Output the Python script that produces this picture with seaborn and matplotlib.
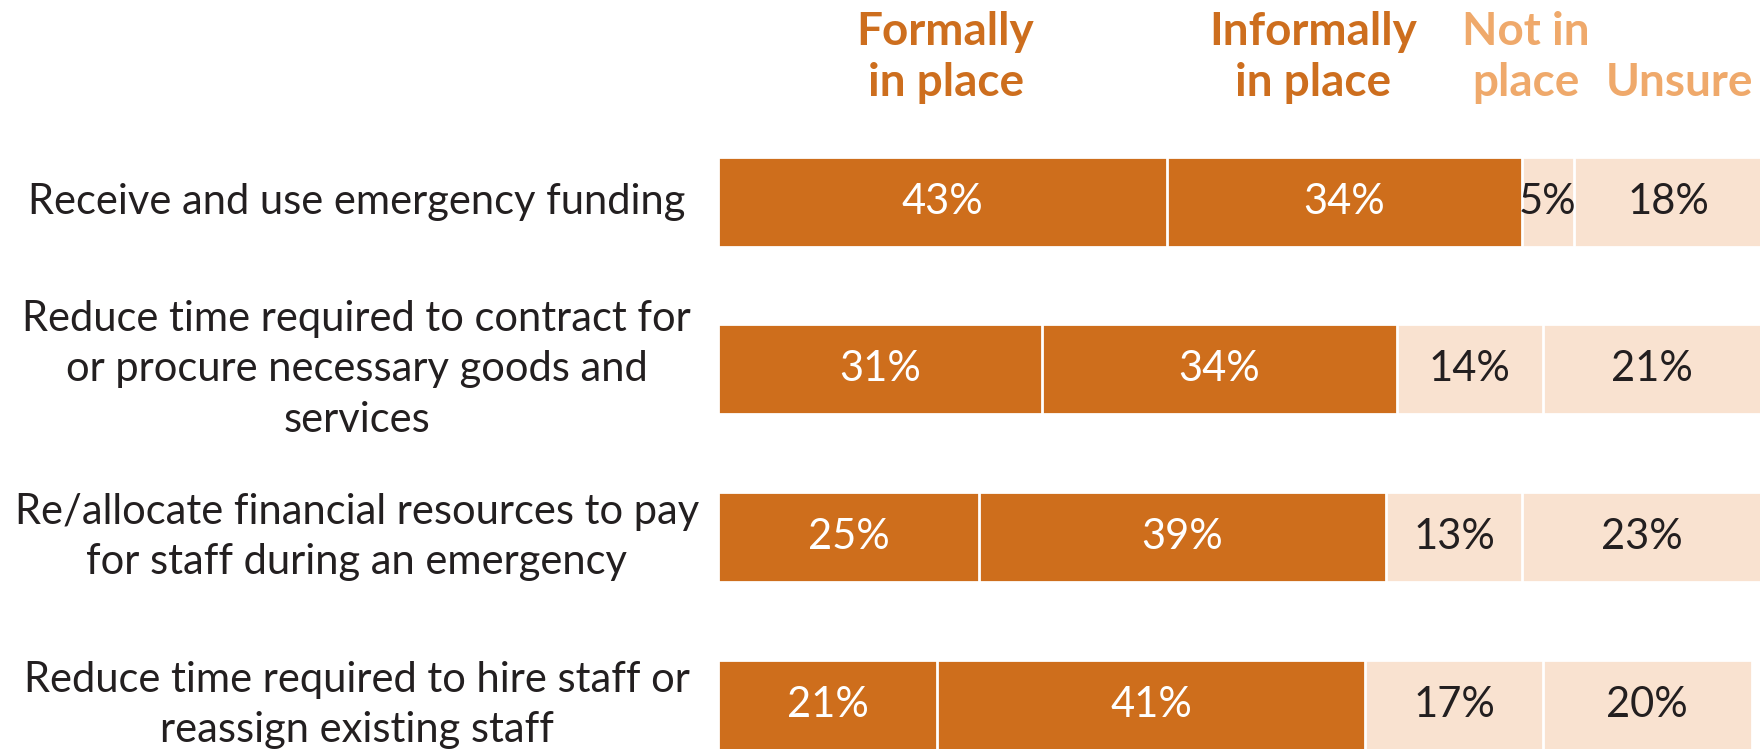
import numpy as np
import pandas as pd
import matplotlib
matplotlib.use("Agg")
import matplotlib.pyplot as plt
import seaborn as sns

# data
categories = [
    "Receive and use emergency funding",
    "Reduce time required to contract for\nor procure necessary goods and\nservices",
    "Re/allocate financial resources to pay\nfor staff during an emergency",
    "Reduce time required to hire staff or\nreassign existing staff",
]
series_names = ["Formally\nin place", "Informally\nin place", "Not in\nplace", "Unsure"]
formally = [43, 31, 25, 21]
informally = [34, 34, 39, 41]
not_in_place = [5, 14, 13, 17]
unsure = [18, 21, 23, 20]

DARK = "#CE6E1C"
LIGHT = "#F9E2D0"
HEAD_DARK = "#CD6E1E"
HEAD_LIGHT = "#EFA96B"
TEXT = "#231F20"

sns.set_theme(style="white")
plt.rcParams["font.family"] = ["Lato", "DejaVu Sans"]

values = np.array([formally, informally, not_in_place, unsure], dtype=float)
cum = values.cumsum(axis=0)

fig = plt.figure(figsize=(17.6, 7.49), dpi=100)
ax = fig.add_axes([718 / 1760, 0, 1044 / 1760, 1])

seg_colors = [DARK, DARK, LIGHT, LIGHT]
# cumulative bars drawn back to front -> stacked look
for k in range(3, -1, -1):
    df = pd.DataFrame({"cat": categories, "val": cum[k]})
    sns.barplot(data=df, x="val", y="cat", color=seg_colors[k], saturation=1,
                width=0.536, edgecolor="white", linewidth=2, ax=ax)

ax.set_xlim(0, 100)
ax.set_ylim(3.262, -1.202)
ax.axis("off")

# segment labels
for k in range(4):
    left = cum[k] - values[k]
    for i in range(len(categories)):
        cx = left[i] + values[k][i] / 2
        ax.text(cx, i, f"{int(values[k][i])}%", ha="center", va="center",
                fontsize=30, color="white" if k < 2 else TEXT)

# row labels
for i, lab in enumerate(categories):
    ax.text(-34.6, i, lab, ha="center", va="center", fontsize=30,
            color=TEXT, clip_on=False, linespacing=1.4)

# column headers
head_x = [21.8, 57.0, 77.4, 92.1]
head_c = [HEAD_DARK, HEAD_DARK, HEAD_LIGHT, HEAD_LIGHT]
for name, hx, hc in zip(series_names, head_x, head_c):
    ax.text(hx, -0.63, name, ha="center", va="baseline", fontsize=33,
            fontweight="bold", color=hc, linespacing=1.25)

fig.savefig("out.png", dpi=100)
